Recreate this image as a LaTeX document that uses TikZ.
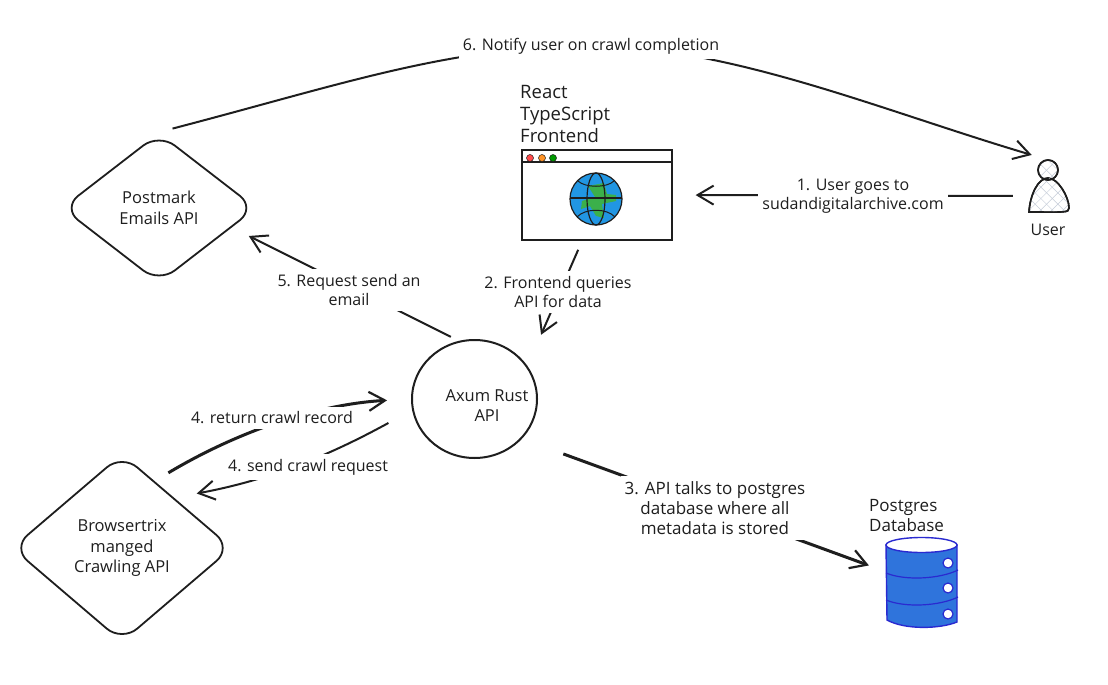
\documentclass[tikz,border=0pt]{standalone}
\usepackage{fontspec}
\setmainfont{Open Sans}
\usetikzlibrary{arrows.meta,shapes.geometric,patterns.meta}
\definecolor{ink}{HTML}{1E1E1E}
\definecolor{dbblue}{HTML}{2F74DC}
\definecolor{dbline}{HTML}{2A2AD0}
\definecolor{globeblue}{HTML}{2196E3}
\definecolor{globegreen}{HTML}{3BB04B}
\definecolor{hatch}{HTML}{C5CCD8}
\tikzset{
	lbl/.style={text=ink,font=\fontsize{16}{19.5}\selectfont,align=center,inner xsep=0pt,inner ysep=0pt},
	cut/.style={lbl,fill=white,inner xsep=4pt,inner ysep=5pt},
	title/.style={text=ink,font=\fontsize{18.5}{22}\selectfont,align=left,inner sep=0pt,anchor=west},
	rhomb/.style={diamond,draw=ink,line width=1.8pt,rounded corners=20pt,inner sep=0pt,text=ink,font=\fontsize{16.5}{20.5}\selectfont,align=center},
	conn/.style={draw=ink,line width=2pt,-{Straight Barb[length=16pt,width=19pt,line width=2pt]}},
	heavy/.style={conn,line width=3pt,-{Straight Barb[length=16pt,width=19pt,line width=2.2pt]}}
}
\begin{document}
\begin{tikzpicture}[x=1pt,y=-1pt]
\useasboundingbox (0,0) rectangle (1108,685);
% boxes
\node (postmark) [rhomb,minimum width=194pt,minimum height=150pt] at (159,208) {Postmark\\Emails API};
\node (browsertrix) [rhomb,minimum width=220pt,minimum height=188pt] at (122,548) {Browsertrix\\manged\\Crawling API};
\node (axum) [ellipse,draw=ink,line width=2pt,minimum width=125pt,minimum height=118pt,inner sep=0pt] at (474.5,399) {};
\node (browser) [rectangle,draw=ink,fill=white,line width=1.3pt,minimum width=150pt,minimum height=90pt,inner sep=0pt] at (597,195) {};
\node (user) [minimum width=42pt,minimum height=72pt,inner sep=0pt] at (1048,196) {};
\node (db) [minimum width=72pt,minimum height=90pt,inner sep=0pt] at (922,582) {};
% browser window
\draw[ink,line width=1.3pt] (browser.north west |- 0,162) -- (browser.north east |- 0,162);
\foreach \x/\c in {530/red!70!white,542/orange!85!white,553/green!60!black}{
	\draw[ink,line width=0.5pt,fill=\c] (\x,158) circle (3.5);
}
\fill[globeblue] (596,199) circle (26);
\fill[globegreen] (588,186) -- (604,183) -- (607,194) -- (616,195) -- (616,201) -- (602,204) -- (604,218) -- (596,216) -- (590,206) -- (581,209) -- (582,201) -- (595,197) -- cycle;
\draw[ink,line width=1.2pt] (596,199) circle (26);
\draw[ink,line width=1.2pt] (596,199) ellipse (9 and 26);
\draw[ink,line width=1.2pt] (570,198) -- (622,198);
\draw[ink,line width=1pt] (578,181) .. controls (585,188) and (607,188) .. (614,181);
\draw[ink,line width=1pt] (577,217) .. controls (585,208) and (607,208) .. (615,217);
% user
\draw[ink,line width=1.6pt,pattern={Lines[angle=45,distance=8pt,line width=0.5pt]},pattern color=hatch] (1029,212) .. controls (1030,195) and (1038,178) .. (1048,178) .. controls (1058,178) and (1069,197) .. (1069,208) .. controls (1069,213) and (1065,212) .. cycle;
\draw[ink,line width=1.6pt,pattern={Lines[angle=-45,distance=8pt,line width=0.5pt]},pattern color=hatch] (1029,212) .. controls (1030,195) and (1038,178) .. (1048,178) .. controls (1058,178) and (1069,197) .. (1069,208) .. controls (1069,213) and (1065,212) .. cycle;
\draw[ink,line width=1.6pt,pattern={Lines[angle=45,distance=8pt,line width=0.5pt]},pattern color=hatch] (1048,170) circle (10);
\draw[ink,line width=1.6pt,pattern={Lines[angle=-45,distance=8pt,line width=0.5pt]},pattern color=hatch] (1048,170) circle (10);
% database
\draw[dbline,line width=1.4pt,fill=dbblue] (886,545) -- (887,620) .. controls (905,630) and (940,629) .. (957,622) -- (957,545) -- cycle;
\draw[dbline,line width=1.4pt,fill=white] (921.5,545) ellipse (35.5 and 7.5);
\draw[dbline,line width=1.2pt] (886,573) .. controls (905,581) and (940,579) .. (958,570);
\draw[dbline,line width=1.2pt] (886,600) .. controls (905,608) and (940,606) .. (958,597);
\foreach \y in {563,588,614}{
	\draw[dbline,line width=1.2pt,fill=white] (948,\y) circle (5);
}
% connectors
\draw[conn,shorten <=14pt,shorten >=23pt] (user.west) -- (browser.east);
\draw[conn,shorten <=10pt,shorten >=34pt] (browser.-108) -- (axum.32);
\draw[heavy,shorten <=44pt,shorten >=18pt] (axum.-40) -- (db.164);
\draw[conn,shorten <=9pt,shorten >=19pt] (axum.105) -- (postmark.-15);
\draw[conn,shorten <=14pt,shorten >=17pt] (postmark.north) .. controls (340,85) and (450,46) .. (590,46) .. controls (730,46) and (880,110) .. (user.north);
\draw[heavy,shorten <=16pt,shorten >=24pt] (browsertrix.64) .. controls (240,430) and (320,404) .. (axum.west);
\draw[conn,shorten <=27pt,shorten >=23pt] (axum.190) .. controls (330,455) and (270,480) .. (browsertrix.44);
% labels
\node (laxum) [lbl,font=\fontsize{16.5}{20}\selectfont] at (487,406) {Axum Rust\\API};
\node (lone) [cut] at (853,196) {1. User goes to\\sudandigitalarchive.com};
\node (ltwo) [cut] at (558,292) {2. Frontend queries\\API for data};
\node (lthree) [cut,font=\fontsize{17}{20}\selectfont] at (715,508) {3. API talks to postgres\\database where all\\metadata is stored};
\node (lfour) [cut] at (272,418) {4. return crawl record};
\node (lsend) [cut] at (308,467) {4. send crawl request};
\node (lfive) [cut] at (349,290) {5. Request send an\\email};
\node (lsix) [cut] at (591,46) {6. Notify user on crawl completion};
\node (lreact) [title] at (520,114) {React\\TypeScript\\Frontend};
\node (ldb) [lbl,font=\fontsize{17}{20}\selectfont,align=left,anchor=west] at (869,516) {Postgres\\Database};
\node (luser) [lbl] at (1048,230) {User};
\end{tikzpicture}
\end{document}
